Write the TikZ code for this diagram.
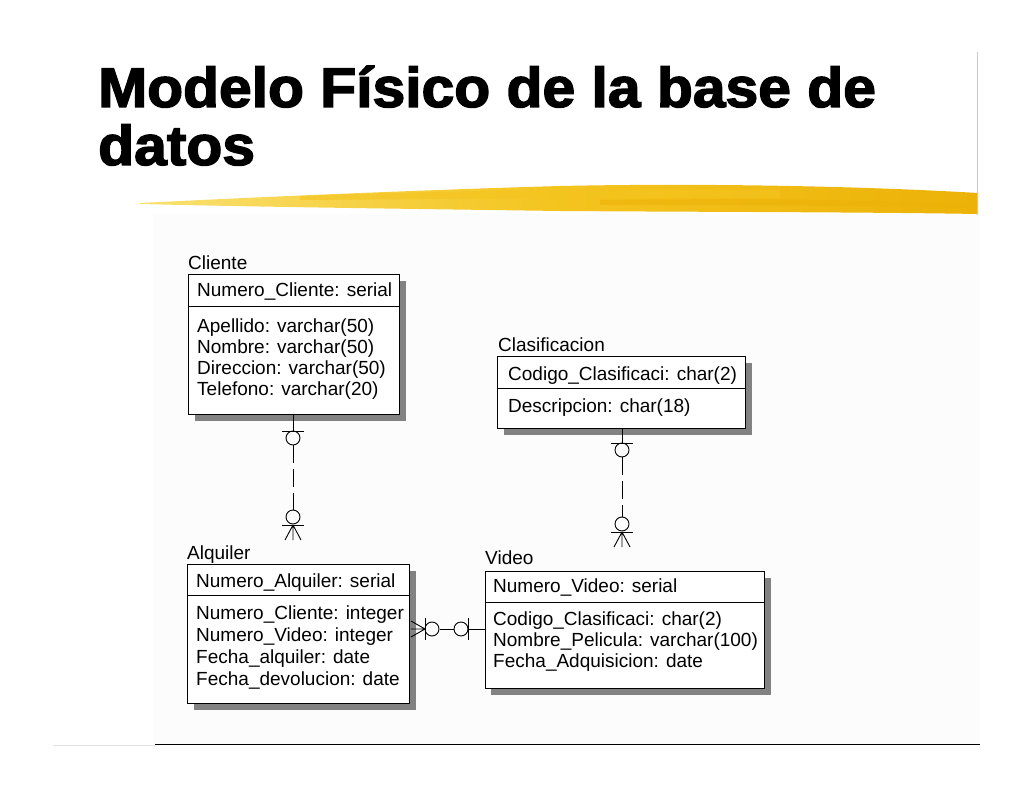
\documentclass[tikz,border=0pt]{standalone}
\usepackage{fontspec}
\setmainfont{Liberation Sans}
\newfontfamily\titlefont[BoldFeatures={FakeBold=2.5}]{Liberation Sans}
\definecolor{shadowgray}{RGB}{130,130,130}
\definecolor{brushA}{RGB}{249,224,112}
\definecolor{brushB}{RGB}{244,196,30}
\definecolor{brushC}{RGB}{236,178,8}
\definecolor{frameline}{RGB}{200,200,200}
\definecolor{paleline}{RGB}{225,225,225}
\begin{document}
\begin{tikzpicture}[x=1pt,y=-1pt]
\tikzset{
  tbl/.style={draw=black, fill=white, line width=0.9pt, anchor=north west, inner sep=0pt},
  shd/.style={fill=shadowgray, draw=none},
  txt/.style={anchor=base west, inner sep=0pt, font=\fontsize{19}{22}\selectfont},
  ttl/.style={anchor=base west, inner sep=0pt, font=\titlefont\bfseries\fontsize{56}{60}\selectfont, xscale=1.05},
  rel/.style={line width=0.9pt, draw=black},
  reldash/.style={rel, dash pattern=on 18pt off 6pt},
}
\useasboundingbox (0,0) rectangle (1024,791);
\fill[white] (0,0) rectangle (1024,791);
\fill[black!1] (153,214) rectangle (980,744);

% title
\node[ttl] (t1) at (98,107) {Modelo Físico de la base de};
\node[ttl] (t2) at (98,165) {datos};

% brush stroke
\shade[left color=brushA, right color=brushC, middle color=brushB]
  (140,203) .. controls (260,197) and (420,190) .. (560,186)
  .. controls (700,183) and (860,186) .. (978,193)
  -- (978,214)
  .. controls (860,212) and (700,212) .. (560,211)
  .. controls (420,209) and (260,207) .. (140,204) -- cycle;
\fill[brushB, opacity=0.6] (300,196) .. controls (450,190) and (650,188) .. (780,190)
  -- (780,198) .. controls (650,197) and (450,199) .. (300,200) -- cycle;
\fill[brushC, opacity=0.5] (600,200) .. controls (750,198) and (880,200) .. (970,204)
  -- (970,208) .. controls (880,206) and (750,205) .. (600,205) -- cycle;

% frame lines
\draw[frameline, line width=0.8pt] (977,52) -- (977,215);
\draw[black, line width=1pt] (155,744) -- (980,744);
\draw[paleline, line width=1pt] (53,745) -- (155,745);

% ---------- Cliente ----------
\fill[shd] (195,281) rectangle (406,421);
\node[tbl, minimum width=211pt, minimum height=140pt] (cliente) at (188,274) {};
\draw[line width=0.9pt] (cliente.west |- 0,306) -- (cliente.east |- 0,306);
\node[txt] (clientelbl) at (188,270) {Cliente};
\node[txt] (c0) at (197,297) {Numero\_Cliente: serial};
\node[txt] (c1) at (197,332) {Apellido: varchar(50)};
\node[txt] (c2) at (197,353) {Nombre: varchar(50)};
\node[txt] (c3) at (197,374) {Direccion: varchar(50)};
\node[txt] (c4) at (197,395) {Telefono: varchar(20)};

% ---------- Clasificacion ----------
\fill[shd] (504,363) rectangle (752,435);
\node[tbl, minimum width=248pt, minimum height=72pt] (clasif) at (497,356) {};
\draw[line width=0.9pt] (clasif.west |- 0,388) -- (clasif.east |- 0,388);
\node[txt] (clasiflbl) at (498,351) {Clasificacion};
\node[txt] (k0) at (508,380) {Codigo\_Clasificaci: char(2)};
\node[txt] (k1) at (508,412) {Descripcion: char(18)};

% ---------- Alquiler ----------
\fill[shd] (194,571) rectangle (416,710);
\node[tbl, minimum width=222pt, minimum height=139pt] (alquiler) at (187,564) {};
\draw[line width=0.9pt] (alquiler.west |- 0,595) -- (alquiler.east |- 0,595);
\node[txt] (alquilerlbl) at (187,559) {Alquiler};
\node[txt] (a0) at (196,587) {Numero\_Alquiler: serial};
\node[txt] (a1) at (196,619) {Numero\_Cliente: integer};
\node[txt] (a2) at (196,641) {Numero\_Video: integer};
\node[txt] (a3) at (196,663) {Fecha\_alquiler: date};
\node[txt] (a4) at (196,685) {Fecha\_devolucion: date};

% ---------- Video ----------
\fill[shd] (491,578) rectangle (771,695);
\node[tbl, minimum width=279pt, minimum height=117pt] (video) at (485,571) {};
\draw[line width=0.9pt] (video.west |- 0,602) -- (video.east |- 0,602);
\node[txt] (videolbl) at (485,564) {Video};
\node[txt] (v0) at (493,592) {Numero\_Video: serial};
\node[txt] (v1) at (493,625) {Codigo\_Clasificaci: char(2)};
\node[txt] (v2) at (493,646) {Nombre\_Pelicula: varchar(100)};
\node[txt] (v3) at (493,667) {Fecha\_Adquisicion: date};

% ---------- Cliente -> Alquiler ----------
\coordinate (r1a) at (293,431);
\coordinate (r1b) at (293,525);
\coordinate (r1e) at (293,540);
\draw[rel] (293,0 |- cliente.south) -- (r1a);
\draw[rel] (282,431) -- (304,431);
\draw[rel] (293,438) circle[radius=7pt];
\draw[reldash] (293,445) -- (293,510);
\draw[rel] (293,517) circle[radius=7pt];
\draw[rel] (282,525) -- (304,525);
\draw[rel] (r1b) -- (285,540) (r1b) -- (r1e) (r1b) -- (301,540);

% ---------- Clasificacion -> Video ----------
\coordinate (r2a) at (622,443);
\coordinate (r2b) at (622,532);
\coordinate (r2e) at (622,547);
\draw[rel] (622,0 |- clasif.south) -- (r2a);
\draw[rel] (611,443) -- (633,443);
\draw[rel] (622,450) circle[radius=7pt];
\draw[reldash] (622,457) -- (622,517);
\draw[rel] (622,524) circle[radius=7pt];
\draw[rel] (611,532) -- (633,532);
\draw[rel] (r2b) -- (614,547) (r2b) -- (r2e) (r2b) -- (630,547);

% ---------- Video -> Alquiler ----------
\coordinate (r3b) at (425,629);
\coordinate (r3e) at (411,629);
\draw[rel] (video.west |- 0,629) -- (468,629);
\draw[rel] (468,618) -- (468,640);
\draw[rel] (461,629) circle[radius=7pt];
\draw[reldash] (454,629) -- (440,629);
\draw[rel] (432,629) circle[radius=7pt];
\draw[rel] (425,618) -- (425,640);
\draw[rel] (r3b) -- (411,621) (r3b) -- (r3e) (r3b) -- (411,637);
\end{tikzpicture}
\end{document}
